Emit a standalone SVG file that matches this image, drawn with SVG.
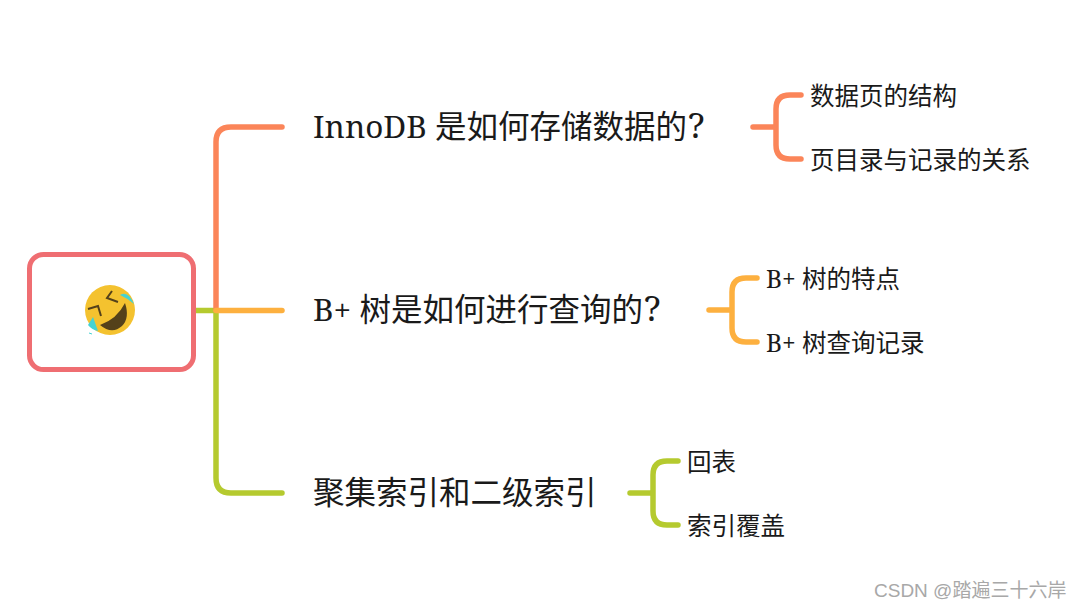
<svg xmlns="http://www.w3.org/2000/svg" width="1080" height="609" viewBox="0 0 1080 609">
<style>
text{font-family:"Noto Serif","DejaVu Serif","Noto Sans CJK SC",sans-serif;fill:#1a1a1a}
.t1{font-size:31.500px}
.t2{font-size:24.500px}
.q{font-size:35px}
.l{fill:none;stroke-width:5.500;stroke-linecap:round;stroke-linejoin:round}
.o{stroke:#fb8559}.y{stroke:#fdb03f}.g{stroke:#b5ca2f}
</style>
<rect width="1080" height="609" fill="#fff"/>
<g id="connectors">
<path class="l g" d="M195 310.500H216V478Q216 493 231 493H282"/>
<path class="l o" d="M216 310V142Q216 127 231 127H282"/>
<path class="l y" d="M216 310.500H282"/>
<path class="l o" d="M753 127H776M776 127V109Q776 95 790 95H801M776 127V145Q776 159 790 159H801"/>
<path class="l y" d="M709 310H732M732 310V292Q732 278 746 278H757M732 310V328Q732 342 746 342H757"/>
<path class="l g" d="M630 493H653M653 493V475Q653 461 667 461H678M653 493V511Q653 525 667 525H678"/>
</g>
<g id="root">
<rect x="29.500" y="254.500" width="164" height="115" rx="14" fill="#fff" stroke="#ef6e72" stroke-width="5"/>
<circle cx="110" cy="310" r="25" fill="#f4c22f"/>
<path d="M120 295Q128 290 134 304Q127 298 120 295Z" fill="#45d3d3"/>
<path d="M88 325L93 317L98 331Q92 330 88 325Z" fill="#45d3d3"/>
<path d="M89 333L92 334" fill="none" stroke="#45d3d3" stroke-width="1"/>
<path d="M125 303Q130 318 122 326Q112 335 100 325Q117 319 125 303Z" fill="#54411a"/>
<path d="M112 291L107 298L118 302M88 309L98 306L101 316" fill="none" stroke="#54411a" stroke-width="2"/>
</g>
<g id="n1"><text class="t1" x="313" y="138">InnoDB 是如何存储数据的<tspan class="q" dx="1">?</tspan></text></g>
<g id="n2"><text class="t1" x="313" y="321">B+ 树是如何进行查询的<tspan class="q" dx="1">?</tspan></text></g>
<g id="n3"><text class="t1" x="313" y="504">聚集索引和二级索引</text></g>
<g id="n1a"><text class="t2" x="810" y="104.500">数据页的结构</text></g>
<g id="n1b"><text class="t2" x="810" y="168.500">页目录与记录的关系</text></g>
<g id="n2a"><text class="t2" x="766" y="287.500">B+ 树的特点</text></g>
<g id="n2b"><text class="t2" x="766" y="351.500">B+ 树查询记录</text></g>
<g id="n3a"><text class="t2" x="687" y="470.500">回表</text></g>
<g id="n3b"><text class="t2" x="687" y="534.500">索引覆盖</text></g>
<text x="874" y="597" style="font-family:'Liberation Sans','Noto Sans CJK SC',sans-serif;fill:#a8a8a8" font-size="19">CSDN @踏遍三十六岸</text>
</svg>
